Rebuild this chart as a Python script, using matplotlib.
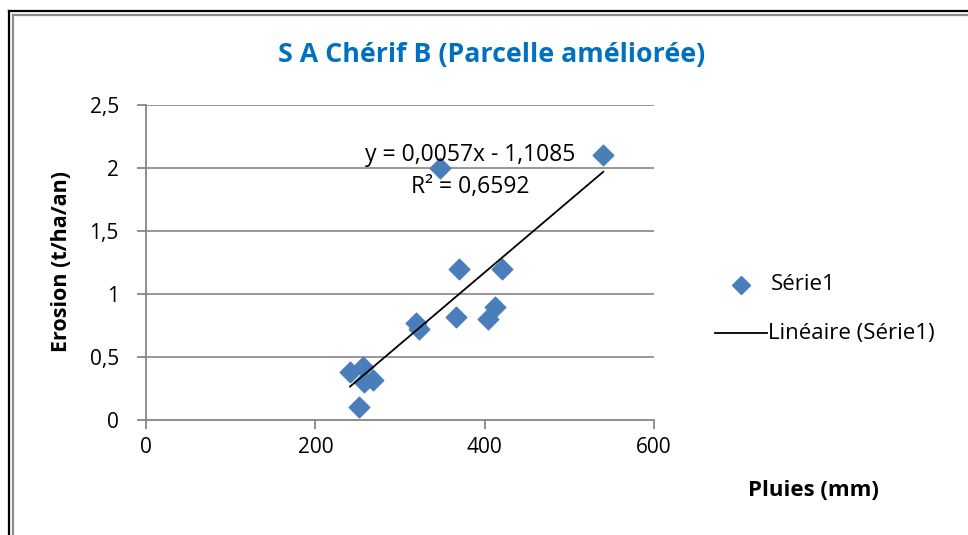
import matplotlib
matplotlib.use("Agg")
import matplotlib.pyplot as plt
from matplotlib.lines import Line2D
import numpy as np

plt.rcParams['font.family'] = ['Open Sans', 'DejaVu Sans']

# Data
pluies = [540, 347, 370, 420, 412, 404, 366, 319, 322, 241, 256, 257, 268, 252]
erosion = [2.10, 2.00, 1.20, 1.20, 0.90, 0.80, 0.82, 0.77, 0.72, 0.38, 0.42, 0.30, 0.32, 0.10]
slope = 0.0057
intercept = -1.1085
eq_text = "y = 0,0057x - 1,1085"
r2_text = "R² = 0,6592"
title = "S A Chérif B (Parcelle améliorée)"
xlabel = "Pluies (mm)"
ylabel = "Erosion (t/ha/an)"
xticks = [0, 200, 400, 600]
yticks = [0, 0.5, 1, 1.5, 2, 2.5]
ytick_labels = ["0", "0,5", "1", "1,5", "2", "2,5"]

W, H = 968, 535
fig = plt.figure(figsize=(W/100, H/100), dpi=100)

# frame (double line)
fig.add_artist(Line2D([9/W, 9/W], [0, 1-11/H], color='black', lw=1.6, transform=fig.transFigure))
fig.add_artist(Line2D([9/W, 1], [1-11/H, 1-11/H], color='black', lw=1.6, transform=fig.transFigure))
fig.add_artist(Line2D([13/W, 13/W], [0, 1-15/H], color='#8c8c8c', lw=1.6, transform=fig.transFigure))
fig.add_artist(Line2D([13/W, 1], [1-15/H, 1-15/H], color='#8c8c8c', lw=1.6, transform=fig.transFigure))

ax = fig.add_axes([146/W, 1-420/H, (654-146)/W, (420-105)/H])
ax.set_xlim(0, 600)
ax.set_ylim(0, 2.5)

gray = '#868686'
for y in yticks[1:]:
    ax.axhline(y, color=gray, lw=1.2, zorder=1)

ax.scatter(pluies, erosion, marker='D', s=110, color='#4a7ebb', edgecolors='#4a7ebb', zorder=3)

xs = np.array([min(pluies), max(pluies)])
ax.plot(xs, slope*xs + intercept, color='black', lw=1.3, zorder=4)

for s in ['top', 'right']:
    ax.spines[s].set_visible(False)
for s in ['left', 'bottom']:
    ax.spines[s].set_color(gray)
    ax.spines[s].set_linewidth(1.3)

ax.set_xticks(xticks)
ax.set_xticklabels([str(v) for v in xticks])
ax.set_yticks(yticks)
ax.set_yticklabels(ytick_labels)
ax.tick_params(axis='both', direction='out', length=6.5, width=1.3, color=gray,
               labelsize=15, labelcolor='black')
ax.tick_params(axis='x', pad=6)
ax.tick_params(axis='y', pad=13)

ax.text(383, 2.10, eq_text, ha='center', va='center', fontsize=16.5, zorder=5)
ax.text(383, 1.85, r2_text, ha='center', va='center', fontsize=16.5, zorder=5)

fig.text(492/W, 1-55/H, title, ha='center', va='center', fontsize=19.3,
         fontweight='bold', color='#0070c0')
fig.text(62/W, 1-262/H, ylabel, ha='center', va='center', rotation=90,
         fontsize=15.5, fontweight='bold')
fig.text(813/W, 1-490/H, xlabel, ha='center', va='center', fontsize=16,
         fontweight='bold')

# legend
fig.add_artist(Line2D([741/W], [1-285/H], marker='D', markersize=9, color='#4a7ebb',
                      linestyle='none', transform=fig.transFigure))
fig.text(771/W, 1-285/H, "Série1", ha='left', va='center', fontsize=16)
fig.add_artist(Line2D([715/W, 767/W], [1-333/H, 1-333/H], color='black', lw=1.3,
                      transform=fig.transFigure))
fig.text(768/W, 1-333/H, "Linéaire (Série1)", ha='left', va='center', fontsize=16)

fig.savefig("out.png", dpi=100)
